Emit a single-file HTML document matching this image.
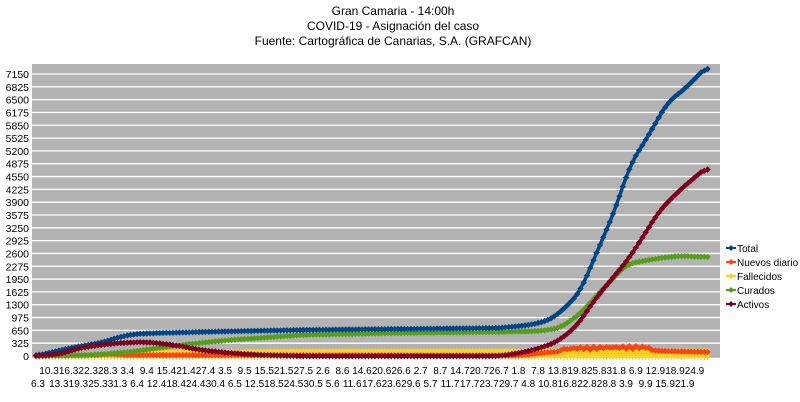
<!DOCTYPE html>
<html><head><meta charset="utf-8"><style>
body{margin:0;background:#fff;width:800px;height:402px;overflow:hidden}
svg{display:block;font-family:"Liberation Sans",Arial,sans-serif}
</style></head><body>
<svg id="s" width="800" height="402" viewBox="0 0 800 402">
<text x="393" y="15" font-size="12" text-anchor="middle">Gran Camaria - 14:00h</text>
<text x="393" y="30" font-size="12" text-anchor="middle">COVID-19 - Asignación del caso</text>
<text x="393" y="45" font-size="12" text-anchor="middle">Fuente: Cartográfica de Canarias, S.A. (GRAFCAN)</text>
<rect x="32" y="64" width="688" height="293" fill="#b3b3b3"/>
<g id="g"></g>
</svg>
<script>
const NS="http://www.w3.org/2000/svg",g=document.getElementById('g');
function el(t,a,txt){const e=document.createElementNS(NS,t);for(const k in a)e.setAttribute(k,a[k]);if(txt!==undefined)e.textContent=txt;g.appendChild(e);return e;}
const y0=356,sc=282/7150;
for(let i=0;i<=22;i++){const v=i*325,y=y0-v*sc;
 if(i>0)el('line',{x1:32,x2:720,y1:y,y2:y,stroke:'#fff','stroke-width':1.3});
 el('text',{x:29,y:y+4,'font-size':10.5,'text-anchor':'end'},String(v));}
el('line',{x1:32,x2:720,y1:357,y2:357,stroke:'#999'});
const x0=36,dx=3.26,N=207;
for(let d=0;d<N;d++){el('line',{x1:x0+d*dx,x2:x0+d*dx,y1:357,y2:360,stroke:'#999','stroke-width':0.5});}
const start=new Date(2020,2,6);
function lab(d){const t=new Date(start.getTime()+d*864e5);return t.getDate()+'.'+(t.getMonth()+1);}
for(let k=0;k<34;k++){const d=4+6*k;el('text',{x:x0+d*dx,y:374,'font-size':10,'text-anchor':'middle'},lab(d));}
el('text',{x:x0+2,y:387,'font-size':10,'text-anchor':'middle'},lab(0));
for(let k=1;k<34;k++){const d=1+6*k;el('text',{x:x0+d*dx,y:387,'font-size':10,'text-anchor':'middle'},lab(d));}
function interp(pts,x){for(let i=0;i<pts.length-1;i++){const[a,b]=pts[i],[c,e]=pts[i+1];if(x>=a&&x<=c)return b+(e-b)*(x-a)/(c-a);}return pts[pts.length-1][1];}
function series(pts,col,jit){let ys=[];for(let i=0;i<N;i++){const x=x0+i*dx;ys.push(interp(pts,x));}
 let sm=ys.map((v,i)=>{let s=0,c=0;for(let k=-2;k<=2;k++){if(ys[i+k]!==undefined){s+=ys[i+k];c++;}}return s/c;});
 let d='',m='';for(let i=0;i<N;i++){const x=x0+i*dx;let y=sm[i];if(jit)y+=jit(i,x);d+=(i?'L':'M')+x.toFixed(1)+' '+y.toFixed(1);
 m+=`M${(x-3.2).toFixed(1)} ${y.toFixed(1)}l3.2 -3.2l3.2 3.2l-3.2 3.2z`;}
 el('path',{d:d,fill:'none',stroke:col,'stroke-width':3.5});el('path',{d:m,fill:col});}
series([[36,356],[706,356]],'#ffd320');
series([[36,356],[100,355],[150,352.5],[200,352],[300,351.5],[707,351]],'#ffd320');
series([[36,356],[100,355],[110,354],[125,355],[520,355.5],[540,353],[580,350],[640,349],[660,351],[707,352]],'#ff420e',(i,x)=>x>560&&x<650?-Math.abs(Math.sin(i*1.7))*3:0);
series([[36,356],[90,355],[130,352],[180,345],[230,340],[300,335],[400,333],[500,332],[540,331],[560,328],[580,314],[600,292],[627,264],[660,258],[680,256],[707,257]],'#579d1c');
series([[36,356],[70,348],[100,343],[120,337],[135,334],[160,333],[200,332],[300,330],[400,329],[500,328],[530,325],[550,320],[565,308],[580,292],[597,252],[615,210],[630,165],[650,133],[667,103],[687,87],[707,66]],'#004586');
series([[36,356],[60,354],[80,348],[100,345],[120,343],[145,342],[165,344],[180,346],[200,350],[230,353],[260,355],[300,356],[500,356],[530,351],[555,343],[575,328],[597,297],[630,257],[660,210],[680,190],[707,167]],'#7e0021');
const L=[['Total','#004586'],['Nuevos diario','#ff420e'],['Fallecidos','#ffd320'],['Curados','#579d1c'],['Activos','#7e0021']];
L.forEach((l,i)=>{const y=248+i*14;el('line',{x1:726,x2:736,y1:y,y2:y,stroke:l[1],'stroke-width':2});
 el('path',{d:`M728 ${y}l3 -3l3 3l-3 3z`,fill:l[1]});el('text',{x:737,y:y+4,'font-size':10},l[0]);});
</script>
</body></html>
